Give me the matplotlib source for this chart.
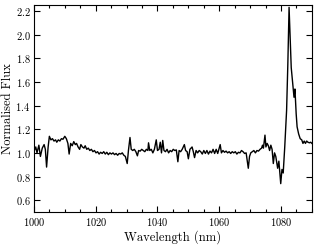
import matplotlib
matplotlib.use("Agg")
from matplotlib import pyplot as plt
from matplotlib.ticker import MultipleLocator

plt.rcParams['font.family'] = ['cmr10', 'DejaVu Serif']
plt.rcParams['mathtext.fontset'] = 'cm'
plt.rcParams['axes.formatter.use_mathtext'] = True

# spectrum
wavelength = [
    1000.0, 1000.6, 1001.0, 1001.6, 1002.1, 1002.7, 1003.3, 1003.7, 1004.1, 1004.6,
    1005.0, 1005.5, 1006.0, 1006.5, 1007.0, 1007.4, 1007.9, 1008.4, 1008.9, 1009.4,
    1010.0, 1010.5, 1011.0, 1011.4, 1011.9, 1012.4, 1012.9, 1013.4, 1013.8, 1014.3,
    1014.8, 1015.2, 1015.7, 1016.2, 1016.6, 1017.1, 1017.6, 1018.1, 1018.6, 1019.1,
    1019.6, 1020.1, 1020.6, 1021.1, 1021.6, 1022.1, 1022.6, 1023.1, 1023.6, 1024.1,
    1024.6, 1025.1, 1025.6, 1026.1, 1026.6, 1027.1, 1027.6, 1028.1, 1028.6, 1029.1,
    1029.6, 1030.2, 1030.6, 1031.1, 1031.5, 1032.0, 1032.5, 1033.0, 1033.5, 1033.9,
    1034.4, 1034.9, 1035.4, 1035.9, 1036.4, 1036.9, 1037.1, 1037.5, 1038.0, 1038.5,
    1039.0, 1039.6, 1040.0, 1040.5, 1040.9, 1041.3, 1041.7, 1042.1, 1042.6, 1043.1,
    1043.6, 1044.1, 1044.6, 1045.1, 1045.6, 1046.1, 1046.6, 1047.0, 1047.5, 1048.0,
    1048.7, 1049.1, 1049.6, 1050.0, 1050.5, 1051.2, 1051.6, 1052.0, 1052.5, 1053.0,
    1053.5, 1054.0, 1054.5, 1055.0, 1055.5, 1056.0, 1056.5, 1057.0, 1057.5, 1058.0,
    1058.5, 1059.0, 1059.5, 1060.3, 1060.7, 1061.2, 1061.7, 1062.2, 1062.7, 1063.2,
    1063.7, 1064.2, 1064.7, 1065.2, 1065.7, 1066.2, 1066.7, 1067.2, 1067.7, 1068.2,
    1068.7, 1069.4, 1069.8, 1070.2, 1070.7, 1071.2, 1071.7, 1072.2, 1072.7, 1073.2,
    1073.7, 1074.0, 1074.3, 1074.8, 1075.1, 1075.5, 1075.9, 1076.3, 1076.7, 1077.1,
    1077.5, 1077.9, 1078.3, 1078.9, 1079.3, 1079.9, 1080.3, 1080.7, 1081.2, 1081.8,
    1082.2, 1082.6, 1083.3, 1083.9, 1084.2, 1084.5, 1084.9, 1085.2, 1085.7, 1086.2,
    1086.7, 1087.1, 1087.5, 1087.9, 1088.3, 1088.7, 1089.2, 1089.6, 1090.0,
]
flux = [
    1.01, 1.05, 1.00, 1.065, 0.97, 1.04, 1.07, 1.03, 0.88, 1.05,
    1.14, 1.11, 1.12, 1.10, 1.11, 1.09, 1.11, 1.10, 1.12, 1.115,
    1.14, 1.12, 1.08, 0.99, 1.08, 1.06, 1.095, 1.07, 1.08, 1.05,
    1.03, 1.07, 1.05, 1.04, 1.06, 1.03, 1.04, 1.02, 1.03, 1.01,
    1.02, 1.00, 1.01, 0.99, 1.005, 0.995, 1.01, 0.99, 1.005, 0.985,
    1.00, 0.99, 1.00, 0.985, 0.995, 0.98, 0.995, 0.99, 1.00, 0.98,
    0.97, 0.91, 1.02, 1.13, 1.03, 1.02, 1.03, 1.01, 0.975, 1.02,
    1.015, 1.03, 1.02, 1.01, 1.03, 1.02, 1.085, 1.02, 1.03, 1.00,
    1.03, 1.11, 1.02, 1.03, 1.09, 1.00, 1.105, 1.02, 1.01, 1.03,
    1.00, 1.02, 1.01, 1.03, 1.02, 1.025, 0.925, 1.02, 1.01, 1.03,
    1.07, 1.02, 1.01, 0.95, 1.03, 1.05, 1.01, 0.96, 1.02, 1.00,
    1.02, 1.01, 0.99, 1.02, 0.995, 1.02, 0.99, 1.015, 1.00, 1.03,
    0.995, 1.03, 0.995, 1.07, 1.00, 1.02, 1.005, 1.015, 1.00, 1.01,
    0.995, 1.01, 1.00, 1.01, 0.99, 1.005, 1.00, 1.02, 1.01, 0.995,
    1.00, 0.87, 0.97, 1.00, 1.01, 1.02, 1.00, 1.02, 1.015, 1.03,
    1.04, 1.065, 1.04, 1.15, 1.05, 1.08, 1.06, 1.02, 1.065, 1.03,
    0.91, 1.00, 0.97, 0.87, 0.93, 0.74, 0.86, 0.83, 1.05, 1.36,
    1.75, 2.23, 1.72, 1.55, 1.47, 1.54, 1.33, 1.22, 1.16, 1.12,
    1.11, 1.08, 1.10, 1.08, 1.10, 1.09, 1.085, 1.09, 1.08,
]

fig = plt.figure(figsize=(3.17, 2.48), dpi=100)
ax = fig.add_axes([0.107, 0.145, 0.877, 0.835])
ax.plot(wavelength, flux, color="black", lw=1.0)

ax.set_xlim(1000, 1090)
ax.set_ylim(0.5, 2.25)
ax.xaxis.set_major_locator(MultipleLocator(20))
ax.xaxis.set_minor_locator(MultipleLocator(5))
ax.yaxis.set_major_locator(MultipleLocator(0.2))
ax.tick_params(which="both", direction="in", top=True, right=True, labelsize=7.5, pad=2.5)
ax.tick_params(which="major", length=4, width=0.8)
ax.tick_params(which="minor", length=2, width=0.8)
ax.set_xlabel("Wavelength (nm)", fontsize=9, labelpad=2)
ax.set_ylabel("Normalised Flux", fontsize=9, labelpad=1)

plt.savefig("out.png", dpi=100)
